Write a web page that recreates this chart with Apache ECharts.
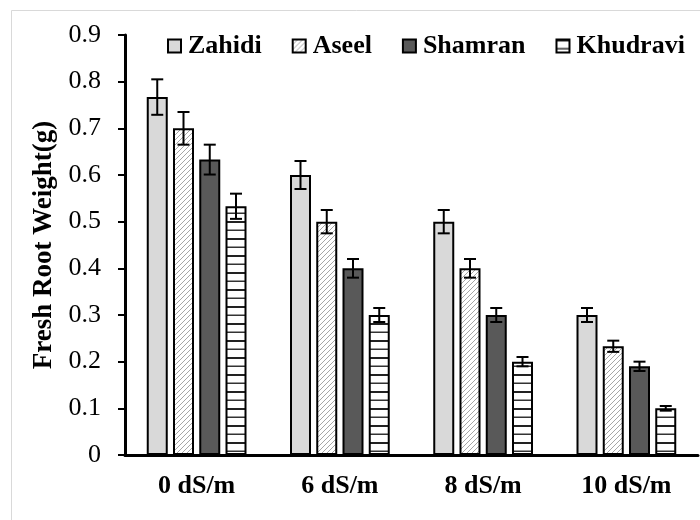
<!DOCTYPE html>
<html>
<head>
<meta charset="utf-8">
<script src="https://cdn.jsdelivr.net/npm/echarts@6/dist/echarts.min.js"></script>
<style>html,body{margin:0;padding:0;background:#fff;}#c{width:700px;height:520px;}</style>
</head>
<body>
<div id="c"></div>
<script>
const categories = ['0 dS/m', '6 dS/m', '8 dS/m', '10 dS/m'];
const seriesNames = ['Zahidi', 'Aseel', 'Shamran', 'Khudravi'];
const zahidi = [0.767, 0.6, 0.5, 0.3];
const aseel = [0.7, 0.5, 0.4, 0.233];
const shamran = [0.633, 0.4, 0.3, 0.19];
const khudravi = [0.533, 0.3, 0.2, 0.1];
const zahidiErr = [0.038, 0.03, 0.025, 0.015];
const aseelErr = [0.035, 0.025, 0.02, 0.012];
const shamranErr = [0.032, 0.02, 0.015, 0.01];
const khudraviErr = [0.027, 0.015, 0.01, 0.005];
const yTicks = ['0', '0.1', '0.2', '0.3', '0.4', '0.5', '0.6', '0.7', '0.8', '0.9'];

const values = [zahidi, aseel, shamran, khudravi];
const errs = [zahidiErr, aseelErr, shamranErr, khudraviErr];

function hatchPattern() {
  const c = document.createElement('canvas');
  c.width = 5; c.height = 5;
  const g = c.getContext('2d');
  g.fillStyle = '#fff'; g.fillRect(0, 0, 5, 5);
  g.strokeStyle = '#a6a6a6'; g.lineWidth = 1;
  g.beginPath();
  g.moveTo(-1, 6); g.lineTo(6, -1);
  g.moveTo(-1, 1); g.lineTo(1, -1);
  g.moveTo(4, 6); g.lineTo(6, 4);
  g.stroke();
  return c;
}
function hLinePattern() {
  const c = document.createElement('canvas');
  c.width = 4; c.height = 17;
  const g = c.getContext('2d');
  g.fillStyle = '#fff'; g.fillRect(0, 0, 4, 17);
  g.fillStyle = '#222';
  g.fillRect(0, 0, 4, 2);
  g.fillStyle = '#333';
  g.fillRect(0, 8.5, 4, 1.5);
  return c;
}

const fills = [
  '#d9d9d9',
  { image: hatchPattern(), repeat: 'repeat' },
  '#595959',
  { image: hLinePattern(), repeat: 'repeat' }
];

const BAR_W = 21, GAP = 5.25;
const FONT = '"Liberation Serif", "Times New Roman", serif';

const series = [];
seriesNames.forEach((n, i) => {
  series.push({
    name: n, type: 'bar', data: values[i], barWidth: BAR_W, barGap: '25%',
    itemStyle: { color: fills[i], borderColor: '#000', borderWidth: 2 },
    emphasis: { disabled: true }, z: 2
  });
});
seriesNames.forEach((n, i) => {
  const total = 4 * BAR_W + 3 * GAP;
  const off = -total / 2 + BAR_W / 2 + i * (BAR_W + GAP);
  series.push({
    name: n + ' err', type: 'custom', z: 5,
    data: values[i].map((v, k) => [k, v, errs[i][k]]),
    renderItem: function (params, api) {
      const x = api.value(0), v = api.value(1), e = api.value(2);
      const hi = api.coord([x, v + e]);
      const lo = api.coord([x, v - e]);
      const cx = hi[0] + off;
      const st = { stroke: '#000', lineWidth: 2 };
      return {
        type: 'group', children: [
          { type: 'line', shape: { x1: cx, y1: hi[1], x2: cx, y2: lo[1] }, style: st },
          { type: 'line', shape: { x1: cx - 6, y1: hi[1], x2: cx + 6, y2: hi[1] }, style: st },
          { type: 'line', shape: { x1: cx - 6, y1: lo[1], x2: cx + 6, y2: lo[1] }, style: st }
        ]
      };
    }
  });
});

const chart = echarts.init(document.getElementById('c'), null, { renderer: 'canvas' });
chart.setOption({
  animation: false,
  backgroundColor: '#fff',
  graphic: [{
    type: 'rect', shape: { x: 11.5, y: 10.5, width: 720, height: 540 },
    style: { fill: 'none', stroke: '#d9d9d9', lineWidth: 1 }, silent: true
  }],
  legend: {
    data: seriesNames, left: 167, top: 33, padding: 0, icon: 'rect',
    itemWidth: 13, itemHeight: 13, itemGap: 30,
    itemStyle: { borderColor: '#000', borderWidth: 2 },
    textStyle: { fontFamily: FONT, fontWeight: 'bold', fontSize: 26, color: '#000', padding: [0, 0, 0, 2] },
    selectedMode: false
  },
  grid: { left: 125, right: 2, top: 35, bottom: 65, containLabel: false },
  xAxis: {
    type: 'category', data: categories,
    axisTick: { show: false },
    axisLine: { lineStyle: { color: '#000', width: 3 } },
    axisLabel: { fontFamily: FONT, fontWeight: 'bold', fontSize: 26, color: '#000', margin: 18 }
  },
  yAxis: {
    type: 'value', min: 0, max: 0.9, interval: 0.1,
    name: 'Fresh Root Weight(g)', nameLocation: 'middle', nameGap: 67,
    nameTextStyle: { fontFamily: FONT, fontWeight: 'bold', fontSize: 27, color: '#000' },
    axisLine: { show: true, lineStyle: { color: '#000', width: 3 } },
    axisTick: { show: true, length: 7, lineStyle: { color: '#000', width: 2 } },
    splitLine: { show: false },
    axisLabel: {
      fontFamily: FONT, fontSize: 26, color: '#000', margin: 24,
      formatter: function (v) { return yTicks[Math.round(v * 10)]; }
    }
  },
  series: series
});
</script>
</body>
</html>
